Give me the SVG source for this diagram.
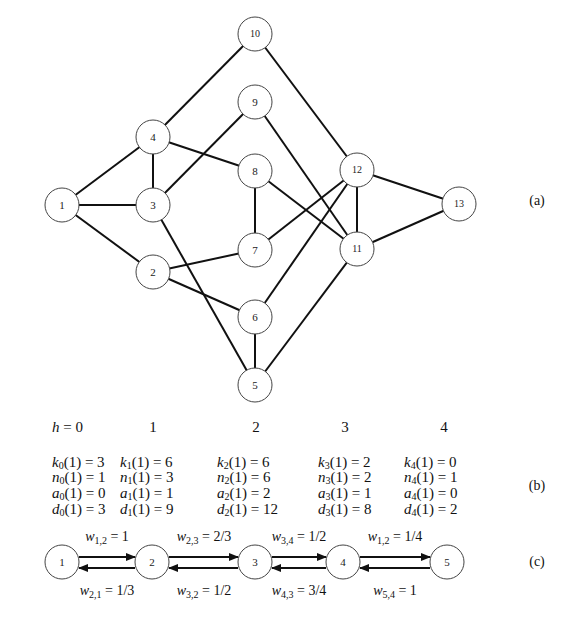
<svg xmlns="http://www.w3.org/2000/svg" width="581" height="634" viewBox="0 0 581 634" font-family="'Liberation Serif', 'Times New Roman', Tinos, 'DejaVu Serif', serif">
<style>
.e{stroke:#111;stroke-width:2;fill:none}
.n circle{fill:#fff;stroke:#444;stroke-width:1}
.n text{font-size:11px;text-anchor:middle;fill:#222}
.n text.s{font-size:10px}
.t{font-size:15px;fill:#111}
.i{font-style:italic}
.sb{font-size:10px}
.w{font-size:14px;fill:#111;text-anchor:middle}
.lab{font-size:14px;fill:#111;text-anchor:middle}
.a{stroke:#111;stroke-width:2;fill:none}
</style>
<defs>
<marker id="ah" markerUnits="userSpaceOnUse" markerWidth="10" markerHeight="8" refX="9" refY="4" orient="auto">
<path d="M0,0 L10,4 L0,8 Z" fill="#111"/>
</marker>
</defs>
<g id="connectors">
<line class="e" x1="62" y1="205" x2="153" y2="137"/>
<line class="e" x1="62" y1="205" x2="153" y2="205"/>
<line class="e" x1="62" y1="205" x2="153" y2="272"/>
<line class="e" x1="153" y1="137" x2="255" y2="34"/>
<line class="e" x1="153" y1="137" x2="153" y2="205"/>
<line class="e" x1="153" y1="137" x2="255" y2="171"/>
<line class="e" x1="153" y1="205" x2="255" y2="102"/>
<line class="e" x1="153" y1="205" x2="255" y2="385"/>
<line class="e" x1="153" y1="272" x2="255" y2="250"/>
<line class="e" x1="153" y1="272" x2="255" y2="317"/>
<line class="e" x1="255" y1="171" x2="255" y2="250"/>
<line class="e" x1="255" y1="171" x2="357" y2="249"/>
<line class="e" x1="255" y1="102" x2="357" y2="249"/>
<line class="e" x1="255" y1="34" x2="357" y2="170"/>
<line class="e" x1="357" y1="170" x2="255" y2="250"/>
<line class="e" x1="357" y1="170" x2="255" y2="317"/>
<line class="e" x1="357" y1="170" x2="357" y2="249"/>
<line class="e" x1="357" y1="170" x2="459" y2="204"/>
<line class="e" x1="357" y1="249" x2="459" y2="204"/>
<line class="e" x1="357" y1="249" x2="255" y2="385"/>
<line class="e" x1="255" y1="317" x2="255" y2="385"/>
<line class="a" x1="79" y1="557" x2="135" y2="557" marker-end="url(#ah)"/>
<line class="a" x1="135" y1="568" x2="79" y2="568" marker-end="url(#ah)"/>
<line class="a" x1="169" y1="557" x2="238" y2="557" marker-end="url(#ah)"/>
<line class="a" x1="238" y1="568" x2="169" y2="568" marker-end="url(#ah)"/>
<line class="a" x1="272" y1="557" x2="326" y2="557" marker-end="url(#ah)"/>
<line class="a" x1="326" y1="568" x2="272" y2="568" marker-end="url(#ah)"/>
<line class="a" x1="360" y1="557" x2="430" y2="557" marker-end="url(#ah)"/>
<line class="a" x1="430" y1="568" x2="360" y2="568" marker-end="url(#ah)"/>
</g>
<g id="n1" class="n"><circle cx="62" cy="205" r="17"/><text x="62" y="209">1</text></g>
<g id="n2" class="n"><circle cx="153" cy="272" r="17"/><text x="153" y="276">2</text></g>
<g id="n3" class="n"><circle cx="153" cy="205" r="17"/><text x="153" y="209">3</text></g>
<g id="n4" class="n"><circle cx="153" cy="137" r="17"/><text x="153" y="141">4</text></g>
<g id="n5" class="n"><circle cx="255" cy="385" r="17"/><text x="255" y="389">5</text></g>
<g id="n6" class="n"><circle cx="255" cy="317" r="17"/><text x="255" y="321">6</text></g>
<g id="n7" class="n"><circle cx="255" cy="250" r="17"/><text x="255" y="254">7</text></g>
<g id="n8" class="n"><circle cx="255" cy="171" r="17"/><text x="255" y="175">8</text></g>
<g id="n9" class="n"><circle cx="255" cy="102" r="17"/><text x="255" y="106">9</text></g>
<g id="n10" class="n"><circle cx="255" cy="34" r="17"/><text class="s" x="255" y="37">10</text></g>
<g id="n11" class="n"><circle cx="357" cy="249" r="17"/><text class="s" x="357" y="252">11</text></g>
<g id="n12" class="n"><circle cx="357" cy="170" r="17"/><text class="s" x="357" y="173">12</text></g>
<g id="n13" class="n"><circle cx="459" cy="204" r="17"/><text class="s" x="459" y="207">13</text></g>
<text class="lab" x="537" y="205">(a)</text>
<g id="table">
<text class="t" x="52" y="432"><tspan class="i">h</tspan> = 0</text>
<text class="t" x="153" y="432" text-anchor="middle">1</text>
<text class="t" x="256" y="432" text-anchor="middle">2</text>
<text class="t" x="345" y="432" text-anchor="middle">3</text>
<text class="t" x="444" y="432" text-anchor="middle">4</text>

<text class="t" x="52" y="467"><tspan class="i">k</tspan><tspan class="sb" dy="2">0</tspan><tspan dy="-2">(1) = 3</tspan></text>
<text class="t" x="52" y="482"><tspan class="i">n</tspan><tspan class="sb" dy="2">0</tspan><tspan dy="-2">(1) = 1</tspan></text>
<text class="t" x="52" y="498"><tspan class="i">a</tspan><tspan class="sb" dy="2">0</tspan><tspan dy="-2">(1) = 0</tspan></text>
<text class="t" x="52" y="514"><tspan class="i">d</tspan><tspan class="sb" dy="2">0</tspan><tspan dy="-2">(1) = 3</tspan></text>

<text class="t" x="120" y="467"><tspan class="i">k</tspan><tspan class="sb" dy="2">1</tspan><tspan dy="-2">(1) = 6</tspan></text>
<text class="t" x="120" y="482"><tspan class="i">n</tspan><tspan class="sb" dy="2">1</tspan><tspan dy="-2">(1) = 3</tspan></text>
<text class="t" x="120" y="498"><tspan class="i">a</tspan><tspan class="sb" dy="2">1</tspan><tspan dy="-2">(1) = 1</tspan></text>
<text class="t" x="120" y="514"><tspan class="i">d</tspan><tspan class="sb" dy="2">1</tspan><tspan dy="-2">(1) = 9</tspan></text>

<text class="t" x="217" y="467"><tspan class="i">k</tspan><tspan class="sb" dy="2">2</tspan><tspan dy="-2">(1) = 6</tspan></text>
<text class="t" x="217" y="482"><tspan class="i">n</tspan><tspan class="sb" dy="2">2</tspan><tspan dy="-2">(1) = 6</tspan></text>
<text class="t" x="217" y="498"><tspan class="i">a</tspan><tspan class="sb" dy="2">2</tspan><tspan dy="-2">(1) = 2</tspan></text>
<text class="t" x="217" y="514"><tspan class="i">d</tspan><tspan class="sb" dy="2">2</tspan><tspan dy="-2">(1) = 12</tspan></text>

<text class="t" x="318" y="467"><tspan class="i">k</tspan><tspan class="sb" dy="2">3</tspan><tspan dy="-2">(1) = 2</tspan></text>
<text class="t" x="318" y="482"><tspan class="i">n</tspan><tspan class="sb" dy="2">3</tspan><tspan dy="-2">(1) = 2</tspan></text>
<text class="t" x="318" y="498"><tspan class="i">a</tspan><tspan class="sb" dy="2">3</tspan><tspan dy="-2">(1) = 1</tspan></text>
<text class="t" x="318" y="514"><tspan class="i">d</tspan><tspan class="sb" dy="2">3</tspan><tspan dy="-2">(1) = 8</tspan></text>

<text class="t" x="404" y="467"><tspan class="i">k</tspan><tspan class="sb" dy="2">4</tspan><tspan dy="-2">(1) = 0</tspan></text>
<text class="t" x="404" y="482"><tspan class="i">n</tspan><tspan class="sb" dy="2">4</tspan><tspan dy="-2">(1) = 1</tspan></text>
<text class="t" x="404" y="498"><tspan class="i">a</tspan><tspan class="sb" dy="2">4</tspan><tspan dy="-2">(1) = 0</tspan></text>
<text class="t" x="404" y="514"><tspan class="i">d</tspan><tspan class="sb" dy="2">4</tspan><tspan dy="-2">(1) = 2</tspan></text>
<text class="lab" x="537" y="490">(b)</text>
</g>
<g id="c1" class="n"><circle cx="62" cy="562" r="17"/><text x="62" y="566">1</text></g>
<g id="c2" class="n"><circle cx="152" cy="562" r="17"/><text x="152" y="566">2</text></g>
<g id="c3" class="n"><circle cx="255" cy="562" r="17"/><text x="255" y="566">3</text></g>
<g id="c4" class="n"><circle cx="343" cy="562" r="17"/><text x="343" y="566">4</text></g>
<g id="c5" class="n"><circle cx="447" cy="562" r="17"/><text x="447" y="566">5</text></g>
<g id="wlabels">
<text class="w" x="107" y="541"><tspan class="i">w</tspan><tspan class="sb" dy="3">1,2</tspan><tspan dy="-3"> = 1</tspan></text>
<text class="w" x="204" y="541"><tspan class="i">w</tspan><tspan class="sb" dy="3">2,3</tspan><tspan dy="-3"> = 2/3</tspan></text>
<text class="w" x="299" y="541"><tspan class="i">w</tspan><tspan class="sb" dy="3">3,4</tspan><tspan dy="-3"> = 1/2</tspan></text>
<text class="w" x="395" y="541"><tspan class="i">w</tspan><tspan class="sb" dy="3">1,2</tspan><tspan dy="-3"> = 1/4</tspan></text>
<text class="w" x="107" y="595"><tspan class="i">w</tspan><tspan class="sb" dy="3">2,1</tspan><tspan dy="-3"> = 1/3</tspan></text>
<text class="w" x="204" y="595"><tspan class="i">w</tspan><tspan class="sb" dy="3">3,2</tspan><tspan dy="-3"> = 1/2</tspan></text>
<text class="w" x="299" y="595"><tspan class="i">w</tspan><tspan class="sb" dy="3">4,3</tspan><tspan dy="-3"> = 3/4</tspan></text>
<text class="w" x="395" y="595"><tspan class="i">w</tspan><tspan class="sb" dy="3">5,4</tspan><tspan dy="-3"> = 1</tspan></text>
</g>
<text class="lab" x="537" y="566">(c)</text>
</svg>
